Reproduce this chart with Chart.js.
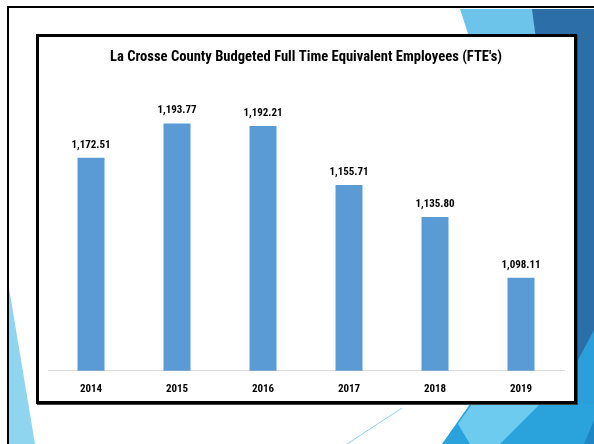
<!DOCTYPE html>
<html>
<head>
<meta charset="utf-8">
<script src="https://cdn.jsdelivr.net/npm/chart.js@4"></script>
<style>
  html, body { margin: 0; padding: 0; background: #fff; }
  body { width: 594px; height: 444px; position: relative; overflow: hidden; }
  #deco { position: absolute; left: 0; top: 0; }
  #frame {
    position: absolute; left: 7px; top: 6px; width: 600px; height: 450px;
    border-top: 2.5px solid #000; border-left: 2.5px solid #000;
  }
  #box {
    position: absolute; left: 36px; top: 34px; width: 535px; height: 364px;
    border: 3px solid #000; background: #fff;
    box-shadow: 1px 1px 0 #444;
  }
  #box canvas { display: block; }
</style>
</head>
<body>
<svg id="deco" width="594" height="444">
  <polygon points="460,9 533,9 536,40 470,40" fill="#6cc4ea" />
  <polygon points="532,9 594,9 594,444 536,444 536,40" fill="#2c6ea7" />
  <polygon points="578,360 594,330 594,444 578,444" fill="#2a9fda" />
  <polygon points="442,444 470,404 594,404 594,444" fill="#2aa3dc" />
  <polygon points="458,424 472,404 540,404 500,444 470,444" fill="#6ccbef" />
  <polygon points="584,444 594,420 594,444" fill="#1f86c6" />
  <polygon points="9,288 9,444 35,444" fill="#8fd5f0" />
  <line x1="402" y1="408" x2="347" y2="444" stroke="#8ed3f0" stroke-width="1" />
</svg>
<div id="frame"></div>
<div id="box"><canvas id="fteChart" width="535" height="364"></canvas></div>
<script>
const years = ["2014", "2015", "2016", "2017", "2018", "2019"];
const fteValues = [1172.51, 1193.77, 1192.21, 1155.71, 1135.80, 1098.11];
const chartTitle = "La Crosse County Budgeted Full Time Equivalent Employees (FTE's)";

const fontFamily = "'Liberation Sans Narrow', 'Roboto Condensed', 'Open Sans', sans-serif";

const valueLabels = {
  id: "valueLabels",
  afterDatasetsDraw(chart) {
    const { ctx } = chart;
    const meta = chart.getDatasetMeta(0);
    ctx.save();
    ctx.font = "bold 11px " + fontFamily;
    ctx.fillStyle = "#000";
    ctx.textAlign = "center";
    ctx.textBaseline = "middle";
    meta.data.forEach((bar, i) => {
      const text = fteValues[i].toLocaleString("en-US", { minimumFractionDigits: 2, maximumFractionDigits: 2 });
      ctx.fillText(text, bar.x, bar.y - 13);
    });
    ctx.restore();
  },
};

new Chart(document.getElementById("fteChart"), {
  type: "bar",
  data: {
    labels: years,
    datasets: [
      {
        data: fteValues,
        backgroundColor: "#5b9bd5",
        borderWidth: 0,
        categoryPercentage: 1,
        barPercentage: 0.314,
      },
    ],
  },
  options: {
    responsive: false,
    animation: false,
    // the x axis counts its tick padding twice when it sizes itself, hence the negative bottom
    layout: { padding: { top: 0, left: 9, right: 10, bottom: -6.3 } },
    scales: {
      x: {
        grid: { display: false, drawTicks: false },
        border: { display: true, color: "#d9d9d9", width: 1 },
        ticks: { color: "#000", padding: 11.7, font: { family: fontFamily, size: 11, weight: "bold", lineHeight: 1.2 } },
      },
      y: {
        display: false,
        min: 1040.5,
        max: 1200,
      },
    },
    plugins: {
      legend: { display: false },
      tooltip: { enabled: false },
      title: {
        display: true,
        text: chartTitle,
        color: "#000",
        font: { family: fontFamily, size: 14.6, weight: "bold", lineHeight: 1.2 },
        padding: { top: 11.2, bottom: 47.8 },
      },
    },
  },
  plugins: [valueLabels],
});
</script>
</body>
</html>
